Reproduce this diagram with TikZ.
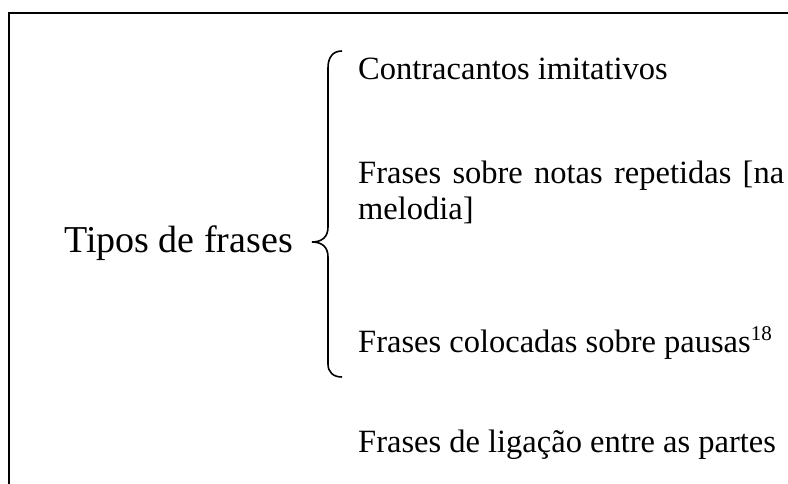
\documentclass[tikz,border=0pt]{standalone}
\usepackage{fontspec}
\setmainfont{Liberation Serif}
\newcommand{\supnum}[1]{\raisebox{12pt}{\fontsize{21}{21}\selectfont #1}}
\begin{document}
\begin{tikzpicture}[x=1pt,y=-1pt,
  itemtext/.style={anchor=base west,inner sep=0pt,font=\fontsize{32.5}{35}\selectfont},
  headtext/.style={anchor=base west,inner sep=0pt,font=\fontsize{38}{40}\selectfont},
  rule/.style={line width=2pt}]
\useasboundingbox (0,0) rectangle (788,484);
\draw[rule] (9,484) -- (9,13) -- (788,13);
\node[headtext] (head) at (64,252) {Tipos de frases};
\draw[line width=1.6pt] (342,51) .. controls (333,51) and (328,57) .. (328,68)
  -- (328,227) .. controls (328,237) and (322,242) .. (312,242)
  .. controls (322,242) and (328,247) .. (328,257)
  -- (328,364) .. controls (328,372) and (333,377) .. (342,377);
\node[itemtext] (a) at (358,80) {Contracantos imitativos};
\node[itemtext] (b1) at (358,184) {\makebox[426pt][s]{Frases sobre notas repetidas [na}};
\node[itemtext] (b2) at (358,219) {melodia]};
\node[itemtext] (c) at (358,352) {Frases colocadas sobre pausas\supnum{18}};
\node[itemtext] (d) at (358,452) {Frases de ligação entre as partes};
\end{tikzpicture}
\end{document}
